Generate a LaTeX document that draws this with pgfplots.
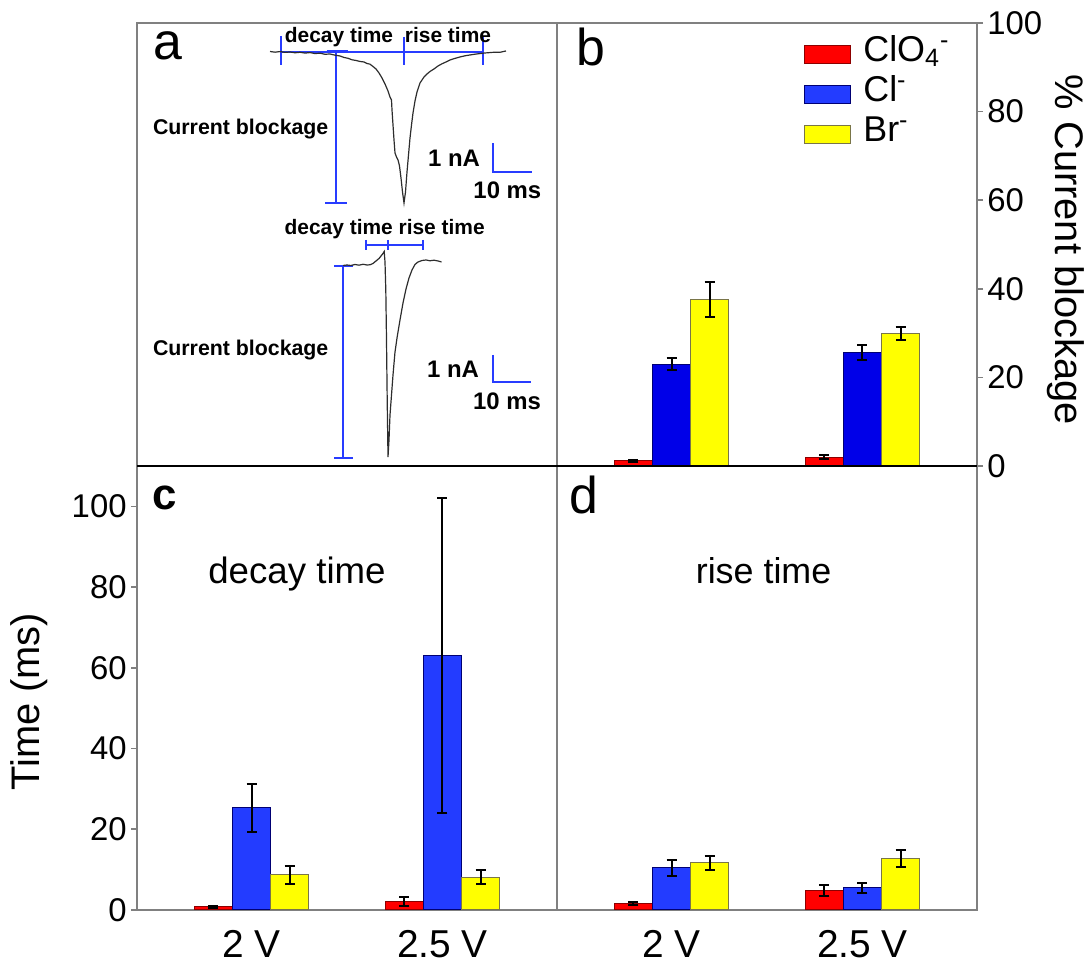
\documentclass[border=0pt]{standalone}
\usepackage{fontspec}
\setmainfont{Liberation Sans}
\usepackage{pgfplots}
\pgfplotsset{compat=1.18}

\definecolor{barred}{RGB}{255,0,0}
\definecolor{barblue}{RGB}{0,0,232}
\definecolor{lightblue}{RGB}{35,60,255}
\definecolor{baryellow}{RGB}{255,255,0}
\definecolor{framegray}{RGB}{128,128,128}
\definecolor{annotblue}{RGB}{40,60,255}
\definecolor{tracegray}{RGB}{45,45,45}

\tikzset{small bold/.style={font=\fontsize{#1}{#1}\selectfont\bfseries}}

\pgfplotsset{
  panel/.style={scale only axis, width=210bp, anchor=south west, clip=false,
    axis line style={draw=framegray, line width=0.8bp},
    tick style={draw=framegray, line width=0.8bp},
    major tick length=3bp, tick align=outside,
    /pgf/number format/assume math mode=true,
    ticklabel style={font=\fontsize{16.5}{16.5}\selectfont, inner sep=2bp}},
  barpanel/.style={panel, xmin=-0.6, xmax=1.6, ymin=0, xtick=\empty},
  redbar/.style={ybar, bar width=0.2, bar shift=-0.2, fill=barred, draw=red!55!black, line width=0.5bp},
  bluebar/.style={ybar, bar width=0.2, bar shift=0, fill=#1, draw=blue!45!black, line width=0.5bp},
  yellowbar/.style={ybar, bar width=0.2, bar shift=0.2, fill=baryellow, draw=yellow!40!black, line width=0.5bp},
  % error bars are drawn as a separate plot at the bar centres
  errplot/.style={draw=none, mark=none, forget plot,
    error bars/y dir=both, error bars/y explicit,
    error bars/error bar style={draw=black, line width=1bp},
    error bars/error mark options={draw=black, line width=1bp, mark size=2.5bp, rotate=90}},
  tracestyle/.style={tracegray, line width=0.6bp, mark=none},
  annotstyle/.style={draw=annotblue, line width=0.9bp, mark=none},
}

\begin{document}
\begin{tikzpicture}[x=1bp,y=1bp]
\path[use as bounding box] (0,0) rectangle (545.5,482);

% ---------- (a) current traces ----------
\begin{axis}[panel, at={(68.5bp,249bp)}, height=221.5bp,
  xmin=137, xmax=557, ymin=23, ymax=466, y dir=reverse,
  xtick=\empty, ytick=\empty]
% markers of the upper event
\addplot[annotstyle] coordinates {(281,51.7) (483,51.7)};
\addplot[annotstyle] coordinates {(281,36) (281,65)};
\addplot[annotstyle] coordinates {(404,37) (404,65)};
\addplot[annotstyle] coordinates {(483,37) (483,65)};
\addplot[annotstyle, line width=1.4bp] coordinates {(326.5,51.7) (348,51.7)};
\addplot[annotstyle] coordinates {(336,51.7) (336,202.7)};
\addplot[annotstyle] coordinates {(325,202.7) (347.3,202.7)};
\addplot[annotstyle] coordinates {(493.3,143.3) (493.3,171.7) (531.7,171.7)};
% markers of the lower event
\addplot[annotstyle] coordinates {(343.3,265.7) (343.3,458.3)};
\addplot[annotstyle] coordinates {(334,265.7) (352.7,265.7)};
\addplot[annotstyle] coordinates {(334,458.3) (352.7,458.3)};
\addplot[annotstyle] coordinates {(366,245) (423.3,245)};
\addplot[annotstyle] coordinates {(366,240) (366,250)};
\addplot[annotstyle] coordinates {(388.3,240) (388.3,250)};
\addplot[annotstyle] coordinates {(423.3,240) (423.3,250)};
\addplot[annotstyle] coordinates {(492.7,355) (492.7,381.7) (531,381.7)};
% current traces
\addplot[tracestyle] coordinates {
 (270,51.5) (275,52.2) (280,51.6) (285,52.4) (290,52.0) (295,52.8) (300,52.3)
 (305,53.1) (310,52.6) (315,53.6) (320,53.2) (325,54.3) (330,54.0) (335,55.2)
 (340,56.0) (344,57.5) (348,58.3) (352,59.8) (356,60.5) (360,61.5) (364,62.0)
 (367,63.5) (370,64.2) (373,66.5) (376,69) (379,73) (382,78) (385,84) (388,91)
 (390,97) (391.5,100) (392,110) (393,125) (394,140) (395,153) (396.5,157)
 (398,160) (399.5,166) (401,178) (402.5,192) (404,203) (405.5,192) (407,172)
 (408.5,155) (410,138) (411.5,125) (413,113) (415,101) (417,92) (420,83)
 (424,77) (427,74) (430,71.5) (434,69) (438,66) (442,63.8) (446,62) (450,60)
 (455,58.4) (460,57) (465,55.8) (470,55) (475,54.2) (480,53.6) (485,53)
 (490,52.6) (495,52.2) (500,52.3) (506,51)};
\addplot[tracestyle] coordinates {
 (343,265.5) (347,265) (351,265.5) (355,264.5) (359,265.2) (363,264.3) (367,265)
 (370,264.8) (373,263.5) (376,261) (379,258.5) (381,256) (383,253.5) (384.2,251.5)
 (385,262) (385.8,290) (386.5,340) (387.2,400) (388,457) (389,440) (390,415)
 (391.5,395) (393,375) (395,352) (397,338) (400,320) (403,303) (406,289)
 (409,278) (412,270) (415,264.5) (418,262) (422,260.5) (426,260) (430,260.8)
 (434,260.2) (438,261) (441.5,262)};
% labels
\node[anchor=base west, font=\fontsize{26}{26}\selectfont] at (axis cs:146,60) {a};
\node[anchor=base, small bold=10.5] at (axis cs:339,42.5) {decay time};
\node[anchor=base, small bold=10.5] at (axis cs:448,42.5) {rise time};
\node[anchor=base, small bold=10.7] at (axis cs:240.7,135) {Current blockage};
\node[anchor=base east, small bold=12] at (axis cs:487,166.7) {1 nA};
\node[anchor=base east, small bold=12] at (axis cs:548.3,199) {10 ms};
\node[anchor=base, small bold=10.5] at (axis cs:384.7,235) {decay time rise time};
\node[anchor=base, small bold=10.7] at (axis cs:240.7,356) {Current blockage};
\node[anchor=base east, small bold=12] at (axis cs:486,377.3) {1 nA};
\node[anchor=base east, small bold=12] at (axis cs:548,409.3) {10 ms};
\end{axis}

% ---------- (b) current blockage ----------
\begin{axis}[barpanel, at={(278.5bp,249bp)}, height=221.5bp,
  ymax=100, ytick={0,20,...,100}, ytick pos=right, yticklabel pos=right,
  legend image code/.code={\draw[#1] (0bp,-4.5bp) rectangle (23bp,4.5bp);},
  legend cell align=left,
  legend style={at={(rel axis cs:0.588,0.975)}, anchor=north west, draw=none,
    fill=none, inner sep=0pt, row sep=0pt, column sep=4bp,
    font=\fontsize{18}{18}\selectfont,
    nodes={inner ysep=0pt, text height=13.5bp, text depth=6.5bp}}]
\addlegendimage{fill=barred, draw=red!55!black, line width=0.5bp}
\addlegendentry{ClO\textsubscript{4}\textsuperscript{-}}
\addlegendimage{fill=lightblue, draw=blue!45!black, line width=0.5bp}
\addlegendentry{Cl\textsuperscript{-}}
\addlegendimage{fill=baryellow, draw=yellow!40!black, line width=0.5bp}
\addlegendentry{Br\textsuperscript{-}}
\addplot[redbar, forget plot] coordinates {(0,1.2) (1,2.0)};
\addplot[bluebar=barblue, forget plot] coordinates {(0,23.0) (1,25.6)};
\addplot[yellowbar, forget plot] coordinates {(0,37.6) (1,29.9)};
\addplot[errplot] coordinates {(-0.2,1.2) +- (0,0.25) (0.8,2.0) +- (0,0.4)};
\addplot[errplot] coordinates {(0,23.0) +- (0,1.4) (1,25.6) +- (0,1.7)};
\addplot[errplot] coordinates {(0.2,37.6) +- (0,4.0) (1.2,29.9) +- (0,1.5)};
\node[anchor=base west, font=\fontsize{26}{26}\selectfont] at (rel axis cs:0.029,0.905) {b};
\node[rotate=-90, font=\fontsize{20}{20}\selectfont] at (axis cs:2.065,48.8) {\% Current blockage};
\end{axis}

% ---------- (c) decay time ----------
\begin{axis}[barpanel, at={(68.5bp,27bp)}, height=222bp,
  ymax=110, ytick={0,20,...,100}, ytick pos=left,
  xtick={0,1}, xticklabels={2 V,2.5 V}, major x tick style={draw=none},
  xticklabel style={font=\fontsize{19.5}{19.5}\selectfont, yshift=-5bp}]
\addplot[redbar] coordinates {(0,0.8) (1,2.1)};
\addplot[bluebar=lightblue] coordinates {(0,25.3) (1,63.0)};
\addplot[yellowbar] coordinates {(0,8.7) (1,8.1)};
\addplot[errplot] coordinates {(-0.2,0.8) +- (0,0.2) (0.8,2.1) +- (0,1.0)};
\addplot[errplot] coordinates {(0,25.3) +- (0,6.0) (1,63.0) +- (0,39.0)};
\addplot[errplot] coordinates {(0.2,8.7) +- (0,2.3) (1.2,8.1) +- (0,1.7)};
\node[anchor=base west, font=\fontsize{22}{22}\selectfont\bfseries] at (rel axis cs:0.021,0.901) {c};
\node[anchor=base, font=\fontsize{18.4}{18.4}\selectfont] at (axis cs:0.238,80.8) {decay time};
\node[rotate=90, font=\fontsize{20}{20}\selectfont] at (axis cs:-1.166,51.6) {Time (ms)};
\end{axis}

% ---------- (d) rise time ----------
\begin{axis}[barpanel, at={(278.5bp,27bp)}, height=222bp,
  ymax=110, ytick=\empty,
  xtick={0,1}, xticklabels={2 V,2.5 V}, major x tick style={draw=none},
  xticklabel style={font=\fontsize{19.5}{19.5}\selectfont, yshift=-5bp}]
\addplot[redbar] coordinates {(0,1.6) (1,4.8)};
\addplot[bluebar=lightblue] coordinates {(0,10.5) (1,5.5)};
\addplot[yellowbar] coordinates {(0,11.7) (1,12.7)};
\addplot[errplot] coordinates {(-0.2,1.6) +- (0,0.3) (0.8,4.8) +- (0,1.4)};
\addplot[errplot] coordinates {(0,10.5) +- (0,2.0) (1,5.5) +- (0,1.3)};
\addplot[errplot] coordinates {(0.2,11.7) +- (0,1.8) (1.2,12.7) +- (0,2.1)};
\node[anchor=base west, font=\fontsize{26}{26}\selectfont] at (rel axis cs:0.014,0.894) {d};
\node[anchor=base, font=\fontsize{18}{18}\selectfont] at (axis cs:0.482,80.8) {rise time};
\draw[black, line width=0.6bp] (rel axis cs:-1,1) -- (rel axis cs:1,1);
\end{axis}
\end{tikzpicture}
\end{document}
